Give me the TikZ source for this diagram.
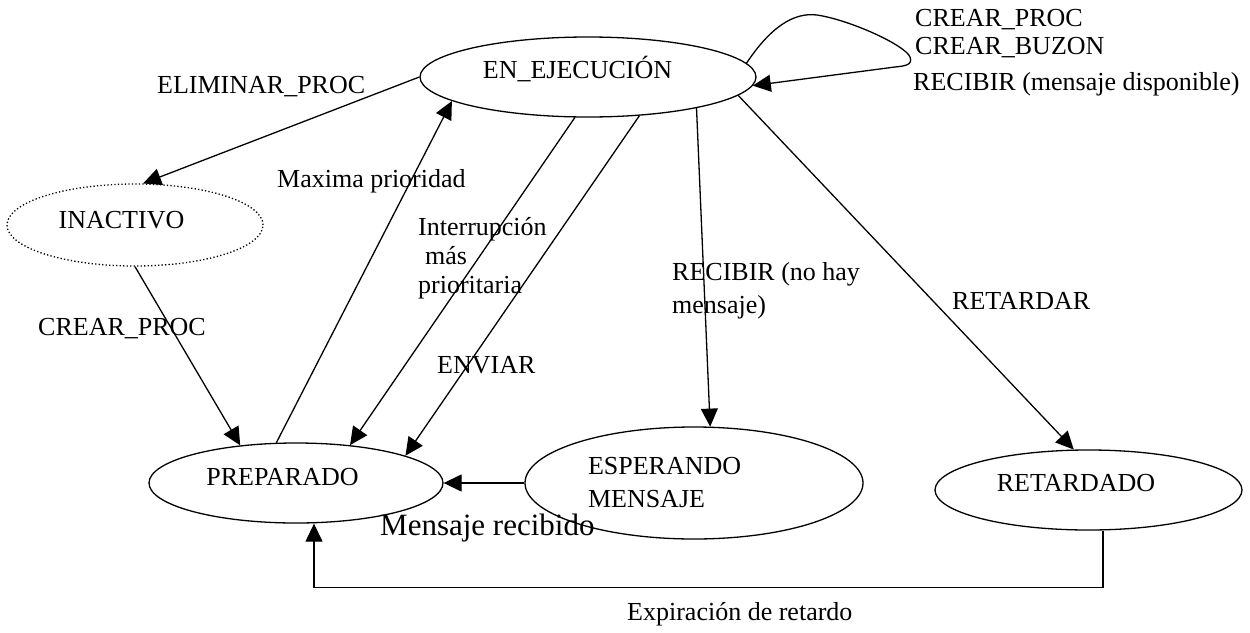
\documentclass[tikz,border=0pt]{standalone}
\usepackage{fontspec}
\setmainfont{Liberation Serif}
\usetikzlibrary{arrows.meta,shapes.geometric}
\begin{document}
\begin{tikzpicture}[x=1pt,y=-1pt,
  every node/.style={inner sep=0pt, font=\fontsize{26}{28}\selectfont},
  state/.style={ellipse, draw, line width=1.3pt, text height=17pt},
  lbl/.style={anchor=base west},
  mlbl/.style={anchor=north west, align=left},
  arr/.style={line width=1.3pt, -{Triangle[length=18pt,width=17pt]}}]
\useasboundingbox (0,0) rectangle (1250,632);
\fill[white] (0,0) rectangle (1250,632);

% states
\node[state, minimum width=336pt, minimum height=80pt, text depth=14pt] (ej) at (588,77) {\hspace*{-21pt}EN\_EJECUCIÓN};
\node[state, minimum width=256pt, minimum height=82pt, text depth=10pt, dash pattern=on 1.3pt off 2.2pt] (ina) at (135,225) {\hspace*{-27pt}INACTIVO};
\node[state, minimum width=294pt, minimum height=80pt, text depth=12pt] (prep) at (296,483) {\hspace*{-27pt}PREPARADO};
\node[ellipse, draw, line width=1.3pt, minimum width=338pt, minimum height=112pt] (esp) at (694,483) {\hspace*{-52pt}\parbox[c]{160pt}{\fontsize{26}{33}\selectfont\raggedright ESPERANDO\\MENSAJE}};
\node[state, minimum width=307pt, minimum height=80pt, text depth=14pt] (ret) at (1088.5,490) {\hspace*{-25pt}RETARDADO};

% labels
\node[mlbl, font=\fontsize{26}{28}\selectfont] (tcrear) at (915,9.5) {CREAR\_PROC\\CREAR\_BUZON};
\node[lbl] (trecd) at (913,90) {RECIBIR (mensaje disponible)};
\node[lbl] (telim) at (157,93) {ELIMINAR\_PROC};
\node[lbl] (tmax) at (277,187) {Maxima prioridad};
\node[mlbl, font=\fontsize{26}{29}\selectfont] (tint) at (418,217.5) {Interrupción\\\hspace*{7pt}más\\prioritaria};
\node[mlbl, font=\fontsize{26}{33}\selectfont] (trecn) at (672,262.5) {RECIBIR (no hay\\mensaje)};
\node[lbl] (tretar) at (952,309) {RETARDAR};
\node[lbl] (tcrear2) at (38,335) {CREAR\_PROC};
\node[lbl] (tenv) at (437,373) {ENVIAR};
\node[lbl, font=\fontsize{31}{36}\selectfont] (tmens) at (380,535) {Mensaje recibido};
\node[lbl] (texp) at (627,620) {Expiración de retardo};

% connectors
\draw[arr] (ej.180) -- (ina.79);
\draw[arr] (ina.south) -- (prep.146);
\draw[arr] (prep.116.6) -- (ej.-170.4);
\draw[arr] (ej.-108.9) -- (prep.35.8);
\draw[arr] (ej.-37.6) -- (prep.14.4);
\draw[arr] (ej.-16.6) -- (esp.74);
\draw[arr] (ej.-7.4) -- (ret.110.9);
\draw[arr] (esp.west) -- (prep.east);
\draw[arr] ([xshift=14.5pt]ret.south) -- ++(0,57) -| ([xshift=18pt]prep.south);
\draw[arr] (ej.5.4) .. controls (770,28) and (793,12) .. (817,15) .. controls (850,20) and (905,45) .. (910,57) .. controls (913,65) and (905,66) .. (895,67) -- (ej.-3);
\end{tikzpicture}
\end{document}
